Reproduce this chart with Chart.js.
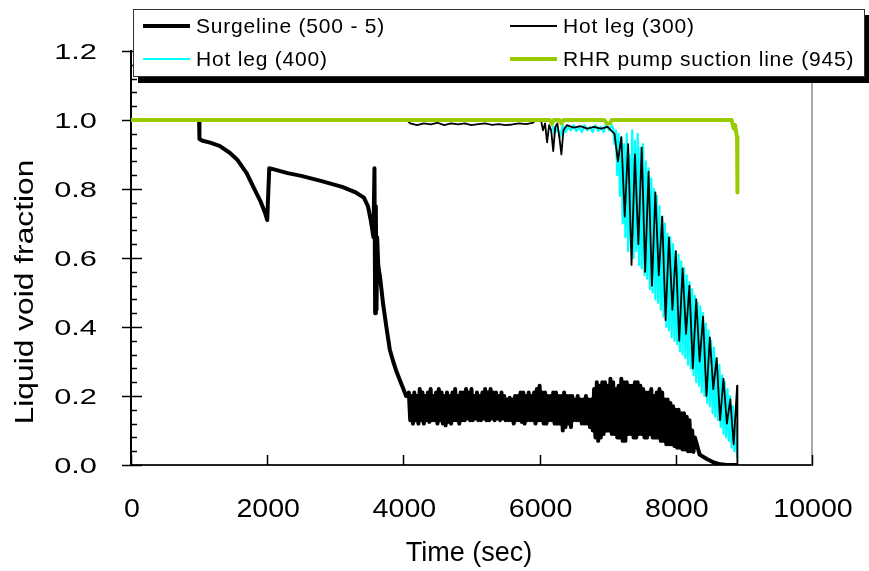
<!DOCTYPE html>
<html>
<head>
<meta charset="utf-8">
<title>Liquid void fraction</title>
<script src="https://cdn.jsdelivr.net/npm/chart.js@4.4.1/dist/chart.umd.min.js"></script>
<style>
  body { margin: 0; background: #fff; }
  #wrap { position: relative; width: 869px; height: 571px; }
  #legend {
    position: absolute; left: 133px; top: 9px; width: 732px; height: 68px;
    box-sizing: border-box; border: 1px solid #333; background: #fff;
    box-shadow: 5px 6px 0 #000;
    font: 21px "Liberation Sans", Arial, sans-serif; letter-spacing: 0.8px; color: #000;
  }
  .item { position: absolute; display: flex; align-items: center; height: 24px; white-space: nowrap; }
  .swatch { width: 47px; margin-right: 6px; }
</style>
</head>
<body>
<div id="wrap">
  <canvas id="voidChart" width="869" height="571"></canvas>
  <div id="legend"></div>
</div>
<script>
// Surgeline (500 - 5), smooth part up to the oscillating band
const surgeTime = [0, 1000, 1005, 1050, 1150, 1300, 1450, 1560, 1700, 1800, 1900, 1970, 2000, 2030, 2100, 2300, 2500, 2800, 3100, 3300,
    3420, 3480, 3520, 3560, 3575, 3585, 3595, 3605, 3615, 3630, 3660, 3700, 3750, 3800, 3850, 3900, 3950, 4000, 4040];
const surgeVoid = [1.0, 1.0, 0.945, 0.94, 0.935, 0.925, 0.905, 0.885, 0.845, 0.805, 0.765, 0.73, 0.71, 0.86, 0.857, 0.846, 0.838, 0.823, 0.806, 0.79,
    0.775, 0.75, 0.71, 0.66, 0.86, 0.44, 0.75, 0.45, 0.66, 0.58, 0.54, 0.47, 0.40, 0.335, 0.30, 0.27, 0.245, 0.22, 0.20];

// Surgeline oscillating band, sampled every 20 s from 4080 s
const surgeBandStart = 4080, surgeBandStep = 20;
const surgeBandVoid = [
    0.21, 0.13, 0.20, 0.12, 0.21, 0.13, 0.20, 0.12, 0.22, 0.13, 0.21, 0.12, 0.20, 0.13, 0.21, 0.125, 0.22, 0.13, 0.20, 0.13,       // 4080
    0.21, 0.12, 0.22, 0.13, 0.21, 0.12, 0.20, 0.115, 0.21, 0.125, 0.20, 0.12, 0.21, 0.13, 0.22, 0.13, 0.20, 0.12, 0.21, 0.13,      // 4480
    0.21, 0.13, 0.22, 0.135, 0.21, 0.13, 0.22, 0.13, 0.20, 0.135, 0.21, 0.13, 0.20, 0.13, 0.21, 0.135, 0.22, 0.13, 0.21, 0.13,     // 4880
    0.22, 0.135, 0.21, 0.13, 0.21, 0.135, 0.20, 0.13, 0.21, 0.135, 0.20, 0.13, 0.19, 0.13, 0.195, 0.13, 0.19, 0.12, 0.20, 0.13,    // 5280
    0.20, 0.13, 0.21, 0.125, 0.21, 0.12, 0.20, 0.13, 0.21, 0.13, 0.20, 0.13, 0.21, 0.12, 0.22, 0.13, 0.23, 0.13, 0.21, 0.12,       // 5680
    0.21, 0.12, 0.20, 0.13, 0.20, 0.13, 0.21, 0.12, 0.21, 0.12, 0.20, 0.12, 0.20, 0.10, 0.21, 0.11, 0.20, 0.12, 0.20, 0.11,        // 6080
    0.20, 0.13, 0.19, 0.13, 0.20, 0.13, 0.19, 0.12, 0.19, 0.12, 0.20, 0.12, 0.19, 0.11, 0.19, 0.10, 0.22, 0.08, 0.24, 0.07,        // 6480
    0.23, 0.08, 0.24, 0.09, 0.24, 0.10, 0.23, 0.10, 0.25, 0.09, 0.24, 0.09, 0.22, 0.08, 0.23, 0.08, 0.25, 0.07, 0.24, 0.07,        // 6880
    0.24, 0.09, 0.23, 0.09, 0.23, 0.08, 0.24, 0.08, 0.24, 0.09, 0.23, 0.09, 0.22, 0.08, 0.21, 0.08, 0.21, 0.09, 0.22, 0.08,        // 7280
    0.20, 0.08, 0.21, 0.08, 0.22, 0.07, 0.21, 0.07, 0.19, 0.06, 0.19, 0.06, 0.18, 0.06, 0.17, 0.055, 0.16, 0.05, 0.16, 0.05,       // 7680
    0.15, 0.045, 0.15, 0.045, 0.14, 0.04, 0.13, 0.04, 0.10, 0.038, 0.08                                                            // 8080
];
const surgeTailTime = [8350, 8450, 8550, 8650, 8750, 8900];
const surgeTailVoid = [0.03, 0.018, 0.008, 0.002, 0.0, 0.0];

// Hot leg (300)
const hot300Time = [0, 4050, 4100, 4200, 4300, 4400, 4500, 4600, 4700, 4800, 4900, 5000, 5100, 5200, 5300, 5400, 5500, 5600, 5700, 5800, 5900,
    5950, 6020, 6050, 6080, 6110, 6140, 6170, 6200, 6230, 6260, 6290, 6320, 6350, 6400, 6500, 6600, 6700, 6800, 6900, 7000, 7050,
    7100, 7150, 7200, 7250, 7300, 7350, 7400, 7450, 7500, 7550, 7600, 7650, 7700, 7750, 7800, 7850, 7900, 7950, 8000,
    8050, 8100, 8150, 8200, 8250, 8300, 8350, 8400, 8450, 8500, 8550, 8600, 8650, 8700, 8750, 8800, 8850, 8900, 8905];
const hot300Void = [1.0, 1.0, 0.99, 0.985, 0.99, 0.987, 0.992, 0.985, 0.99, 0.987, 0.99, 0.985, 0.988, 0.99, 0.986, 0.988, 0.985, 0.987, 0.99, 0.988, 0.992,
    1.0, 1.0, 0.97, 0.99, 0.935, 0.985, 0.97, 0.91, 0.98, 0.99, 0.95, 0.90, 0.97, 0.985, 0.978, 0.982, 0.975, 0.98, 0.975, 0.98, 0.97,
    0.96, 0.88, 0.95, 0.72, 0.93, 0.58, 0.90, 0.64, 0.92, 0.56, 0.85, 0.52, 0.79, 0.55, 0.72, 0.42, 0.66, 0.45, 0.62,
    0.36, 0.57, 0.38, 0.52, 0.28, 0.48, 0.30, 0.43, 0.20, 0.37, 0.22, 0.31, 0.13, 0.25, 0.12, 0.19, 0.06, 0.23, 0.0];

// Hot leg (400): near-flat part every 40 s from 6180 s, then the falling oscillation every 20 s from 7080 s
const hot400FlatStart = 6180, hot400FlatStep = 40;
const hot400FlatVoid = [
    0.99, 0.96, 0.98, 0.95, 0.985, 0.965, 0.98, 0.97, 0.985, 0.968,
    0.98, 0.965, 0.985, 0.97, 0.98, 0.965, 0.985, 0.968, 0.98, 0.965,
    0.99, 0.97, 0.985
];
const hot400OscStart = 7080, hot400OscStep = 20;
const hot400OscVoid = [
    0.975, 0.93, 0.97, 0.84, 0.96, 0.78, 0.95, 0.70, 0.93, 0.66,     // 7080
    0.96, 0.62, 0.90, 0.64, 0.97, 0.60, 0.94, 0.62, 0.96, 0.58,      // 7280
    0.92, 0.57, 0.93, 0.55, 0.88, 0.54, 0.86, 0.51, 0.83, 0.50,      // 7480
    0.80, 0.48, 0.78, 0.47, 0.75, 0.45, 0.72, 0.43, 0.70, 0.40,      // 7680
    0.67, 0.39, 0.66, 0.37, 0.64, 0.36, 0.62, 0.35, 0.61, 0.33,      // 7880
    0.59, 0.32, 0.57, 0.31, 0.55, 0.29, 0.53, 0.28, 0.51, 0.26,      // 8080
    0.49, 0.24, 0.47, 0.23, 0.46, 0.21, 0.44, 0.20, 0.41, 0.18,      // 8280
    0.39, 0.17, 0.36, 0.15, 0.34, 0.14, 0.31, 0.13, 0.29, 0.11,      // 8480
    0.26, 0.09, 0.24, 0.08, 0.22, 0.07, 0.20, 0.05, 0.17, 0.04,      // 8680
    0.12, 0.02                                                       // 8880
];

// RHR pump suction line (945)
const rhrTime = [0, 6150, 6180, 6210, 6290, 6320, 6350, 6950, 6990, 7030, 7060, 8820, 8850, 8870, 8890, 8900, 8905];
const rhrVoid = [1, 1, 0.99, 1, 1, 0.99, 1, 1, 0.99, 0.99, 1, 1, 0.975, 0.985, 0.96, 0.95, 0.79];

const xTitle = 'Time (sec)';
const yTitle = 'Liquid void fraction';

const FONT = '"Liberation Sans", Arial, sans-serif';

function pairs(times, values) {
    return times.map((t, i) => ({ x: t, y: values[i] }));
}
function grid(start, step, values) {
    return values.map((v, i) => ({ x: start + i * step, y: v }));
}

const surgePoints = pairs(surgeTime, surgeVoid)
    .concat(grid(surgeBandStart, surgeBandStep, surgeBandVoid))
    .concat(pairs(surgeTailTime, surgeTailVoid));
const hot400Points = grid(hot400FlatStart, hot400FlatStep, hot400FlatVoid)
    .concat(grid(hot400OscStart, hot400OscStep, hot400OscVoid));

// drawing order: first entry ends up on top
const series = [
    { label: 'RHR pump suction line (945)', data: pairs(rhrTime, rhrVoid), color: '#99CC00', width: 4, legend: [1, 1] },
    { label: 'Hot leg (300)', data: pairs(hot300Time, hot300Void), color: '#000000', width: 1.8, legend: [1, 0] },
    { label: 'Hot leg (400)', data: hot400Points, color: '#00FFFF', width: 2.2, legend: [0, 1] },
    { label: 'Surgeline (500 - 5)', data: surgePoints, color: '#000000', width: 4, legend: [0, 0] }
];

// ticks, minor ticks and right frame, drawn under the data
const axisMarks = {
    id: 'axisMarks',
    beforeDatasetsDraw(chart) {
        const { ctx, chartArea: a, scales: { x, y } } = chart;
        ctx.save();
        ctx.lineCap = 'butt';
        const line = (x1, y1, x2, y2) => { ctx.beginPath(); ctx.moveTo(x1, y1); ctx.lineTo(x2, y2); ctx.stroke(); };

        ctx.strokeStyle = '#8a8a8a';
        ctx.lineWidth = 1.5;
        line(a.right, a.top, a.right, a.bottom);

        ctx.strokeStyle = '#000';
        ctx.lineWidth = 1.5;
        y.ticks.forEach(t => {
            const py = Math.round(y.getPixelForValue(t.value)) + 0.5;
            line(a.left - 9, py, a.left + 11, py);
            for (let k = 1; k < 5; k++) {
                const v = t.value + k * 0.04;
                if (v > y.max + 1e-9) break;
                const pm = Math.round(y.getPixelForValue(v)) + 0.5;
                line(a.left, pm, a.left + 6, pm);
            }
        });
        x.ticks.forEach(t => {
            const px = Math.round(x.getPixelForValue(t.value)) + 0.5;
            line(px, a.bottom, px, a.bottom - 10);
        });
        ctx.restore();
    },
    afterDraw(chart) {
        const { ctx, scales: { x, y } } = chart;
        ctx.save();
        ctx.fillStyle = '#000';
        ctx.textBaseline = 'alphabetic';

        // the original's tick digits are drawn wide, so stretch them horizontally
        ctx.font = '22px ' + FONT;
        ctx.textAlign = 'right';
        y.ticks.forEach(t => {
            ctx.save();
            ctx.translate(97, y.getPixelForValue(t.value) + 8);
            ctx.scale(1.4, 1);
            ctx.fillText(t.value.toFixed(1), 0, 0);
            ctx.restore();
        });

        ctx.font = '26px ' + FONT;
        ctx.textAlign = 'center';
        x.ticks.forEach(t => {
            ctx.save();
            ctx.translate(x.getPixelForValue(t.value) + 1, 517);
            ctx.scale(1.1, 1);
            ctx.fillText(String(Math.round(t.value)), 0, 0);
            ctx.restore();
        });

        ctx.font = '27px ' + FONT;
        ctx.fillText(xTitle, 469, 561);

        ctx.translate(26, 292);
        ctx.rotate(-Math.PI / 2);
        ctx.scale(1.27, 1);
        ctx.font = '25px ' + FONT;
        ctx.textBaseline = 'middle';
        ctx.fillText(yTitle, 0, 0);
        ctx.restore();
    }
};

new Chart(document.getElementById('voidChart').getContext('2d'), {
    type: 'line',
    data: {
        datasets: series.map(s => ({
            label: s.label,
            data: s.data,
            borderColor: s.color,
            borderWidth: s.width,
            pointRadius: 0,
            tension: 0,
            fill: false,
            borderJoinStyle: 'round',
            borderCapStyle: 'butt'
        }))
    },
    options: {
        responsive: false,
        animation: false,
        devicePixelRatio: 1,
        layout: { padding: { left: 0, right: 57, top: 51, bottom: 0 } },
        plugins: { legend: { display: false }, tooltip: { enabled: false } },
        scales: {
            x: {
                type: 'linear', min: 0, max: 10000,
                ticks: { display: false, stepSize: 2000 },
                grid: { display: false },
                border: { display: true, color: '#222', width: 2 },
                afterFit: s => { s.height = 106; }
            },
            y: {
                type: 'linear', min: 0, max: 1.2,
                ticks: { display: false, stepSize: 0.2 },
                grid: { display: false },
                border: { display: true, color: '#000', width: 2 },
                afterFit: s => { s.width = 131; }
            }
        }
    },
    plugins: [axisMarks]
});

// legend box laid out in two columns like the original
const legendEl = document.getElementById('legend');
series.forEach(s => {
    const item = document.createElement('div');
    item.className = 'item';
    item.style.left = (9 + s.legend[0] * 367) + 'px';
    item.style.top = (4 + s.legend[1] * 33) + 'px';
    const sw = document.createElement('span');
    sw.className = 'swatch';
    sw.style.borderTop = (s.width + 0.5) + 'px solid ' + s.color;
    const txt = document.createElement('span');
    txt.textContent = s.label;
    item.appendChild(sw);
    item.appendChild(txt);
    legendEl.appendChild(item);
});
</script>
</body>
</html>
